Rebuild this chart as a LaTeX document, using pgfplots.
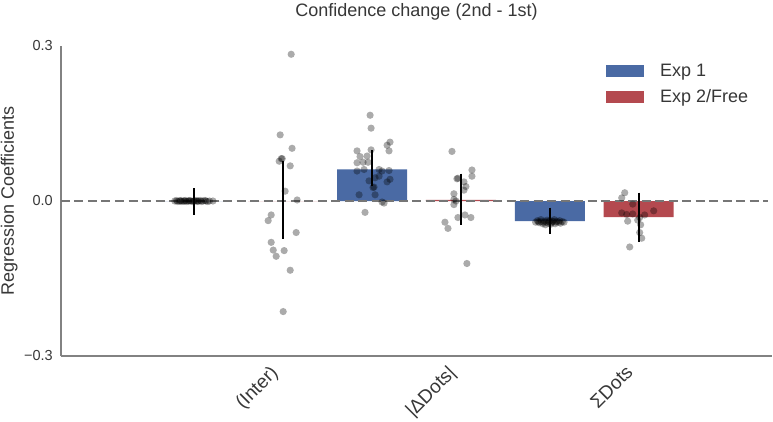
\documentclass[border=0pt]{standalone}
\usepackage{fontspec}
\setmainfont{Liberation Sans}
\usepackage{pgfplots}
\pgfplotsset{compat=1.18}
\definecolor{barblue}{RGB}{74,106,164}
\definecolor{barred}{RGB}{180,73,79}
\definecolor{txt}{RGB}{55,55,55}
\definecolor{spine}{RGB}{130,130,130}
\definecolor{zline}{RGB}{118,118,118}
\begin{document}
\begin{tikzpicture}
\begin{axis}[
  scale only axis, width=711pt, height=310pt,
  xmin=-1.5, xmax=6.5, ymin=-0.3, ymax=0.3,
  axis x line*=bottom, axis y line*=left,
  axis line style={draw=spine, line width=1.3pt, -},
  major tick length=0pt,
  xtick={1,3,5}, xticklabels={(Inter),|ΔDots|,ΣDots},
  ytick={-0.3,0,0.3}, yticklabels={−0.3,0.0,0.3},
  xticklabel style={font=\fontsize{19}{19}\selectfont, text=txt, xshift=-14pt, yshift=2pt, anchor=north east, rotate=45, inner sep=0pt},
  xticklabel shift=10pt,
  yticklabel style={font=\fontsize{14.5}{14.5}\selectfont, text=txt, anchor=east, inner sep=0pt},
  yticklabel shift=8pt,
  title={Confidence change (2nd - 1st)},
  title style={at={(axis description cs:0.5,1.064)}, anchor=south, font=\fontsize{18}{18}\selectfont, text=txt, inner sep=0pt},
  ylabel={Regression Coefficients},
  every axis y label/.style={at={(axis description cs:-0.073,0.5)}, rotate=90, anchor=center, font=\fontsize{18}{18}\selectfont, text=txt},
  legend style={at={(axis description cs:0.7665,0.946)}, anchor=north west, draw=none, fill=none, font=\fontsize{18}{18}\selectfont, text=txt, row sep=10pt, inner sep=0pt, nodes={inner sep=1pt}},
  legend cell align=left,
  legend image code/.code={\fill[#1] (0pt,-6pt) rectangle (38pt,6pt); \path (53pt,0pt);},
]
\addlegendimage{fill=barblue, draw=none}
\addlegendentry{Exp 1}
\addlegendimage{fill=barred, draw=none}
\addlegendentry{Exp 2/Free}

\addplot[ybar, bar width=0.787, bar shift=0pt, fill=barblue, draw=none, forget plot] coordinates {(0,0) (2,0.061) (4,-0.039)};
\addplot[ybar, bar width=0.787, bar shift=0pt, fill=barred, draw=none, forget plot] coordinates {(1,0) (3,0.002) (5,-0.031)};

\addplot[forget plot, draw=zline, line width=2.2pt, dash pattern=on 9pt off 4.5pt] coordinates {(-1.5,0) (6.45,0)};

\addplot[forget plot, only marks, mark=*, mark size=3.6pt, draw=none, mark options={draw=none, draw opacity=0, line width=0pt, fill=black, fill opacity=0.33}] table {
x y
-0.22 0.000
-0.20 0.001
-0.19 -0.001
-0.17 0.000
-0.16 0.000
-0.15 0.001
-0.14 -0.001
-0.12 0.000
-0.11 0.000
-0.10 0.001
-0.09 -0.001
-0.07 0.000
-0.06 0.000
-0.05 0.001
-0.04 0.000
-0.02 -0.001
-0.01 0.000
0.00 0.000
0.02 0.001
0.03 -0.001
0.04 0.000
0.05 0.000
0.07 0.001
0.08 -0.001
0.10 0.000
0.12 0.001
0.13 0.000
0.15 -0.001
0.17 0.000
0.21 0.000
1.09 0.284
0.966 0.128
1.10 0.102
0.978 0.082
0.955 0.077
0.989 0.082
1.079 0.068
1.022 0.019
1.157 0.002
0.865 -0.027
0.831 -0.038
1.146 -0.061
0.865 -0.080
0.888 -0.095
1.011 -0.096
0.921 -0.107
1.079 -0.134
1.000 -0.214
1.978 0.166
1.989 0.141
2.202 0.114
2.169 0.108
1.831 0.097
2.191 0.097
1.989 0.099
1.865 0.086
1.944 0.087
1.831 0.074
1.899 0.075
1.955 0.075
1.831 0.058
1.910 0.061
2.079 0.061
2.191 0.059
2.112 0.058
2.034 0.045
2.079 0.048
2.202 0.042
2.169 0.037
1.966 0.039
2.022 0.027
2.011 0.026
1.854 0.012
2.034 0.012
2.112 -0.002
2.135 -0.004
1.921 -0.022
2.899 0.096
3.124 0.060
3.124 0.048
2.966 0.044
2.955 0.043
3.034 0.037
3.056 0.028
3.034 0.021
2.921 0.014
2.921 0.003
2.944 0.000
2.921 -0.007
2.966 -0.032
3.045 -0.027
3.112 -0.032
2.820 -0.041
2.854 -0.053
3.067 -0.121
3.84 -0.041
3.86 -0.038
3.87 -0.040
3.88 -0.042
3.90 -0.040
3.92 -0.044
3.93 -0.041
3.94 -0.039
3.96 -0.041
3.98 -0.043
3.99 -0.040
4.00 -0.038
4.02 -0.042
4.03 -0.039
4.04 -0.040
4.06 -0.044
4.07 -0.041
4.08 -0.039
4.10 -0.041
4.11 -0.038
4.12 -0.043
4.14 -0.040
4.16 -0.041
3.95 -0.046
4.05 -0.036
3.90 -0.036
4.01 -0.045
3.97 -0.037
4.843 0.016
4.809 0.006
4.933 -0.006
5.169 -0.019
4.809 -0.023
4.865 -0.026
4.933 -0.025
5.067 -0.027
5.011 -0.032
4.989 -0.037
4.876 -0.039
5.022 -0.046
5.011 -0.061
5.034 -0.072
4.899 -0.089
};

\addplot[forget plot, black, line width=1.8pt, unbounded coords=jump] coordinates {
(0,0.025) (0,-0.027) (0,nan)
(1,0.077) (1,-0.074) (1,nan)
(2,0.098) (2,0.029) (2,nan)
(3,0.053) (3,-0.046) (3,nan)
(4,-0.013) (4,-0.063) (4,nan)
(5,0.016) (5,-0.079)
};
\coordinate (sw) at (rel axis cs:0,0);
\end{axis}
\pgfresetboundingbox
\path[use as bounding box] ([shift={(-61pt,-65pt)}]sw) rectangle ++(773pt,421pt);
\end{tikzpicture}
\end{document}
